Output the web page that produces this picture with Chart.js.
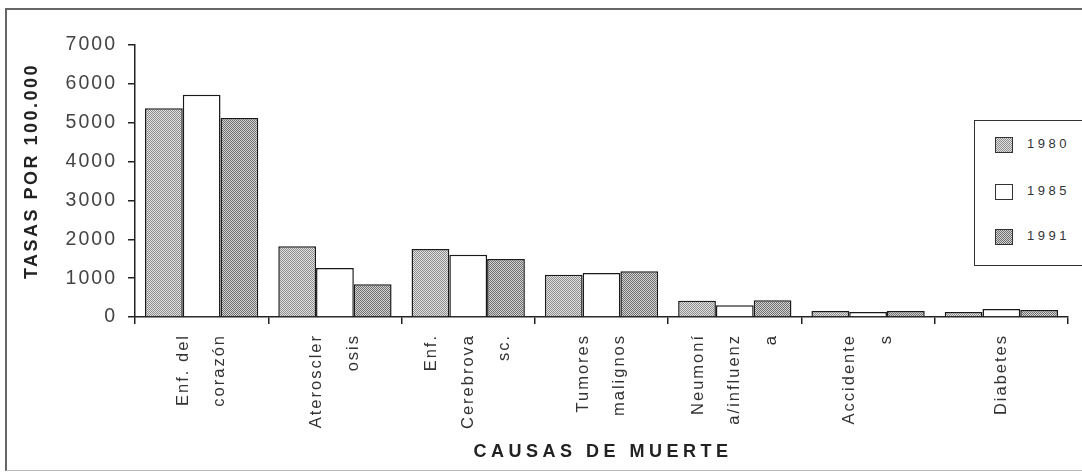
<!DOCTYPE html>
<html>
<head>
    <meta charset="utf-8">
    <title>Causas de muerte</title>
    <script src="https://cdn.jsdelivr.net/npm/chart.js"></script>
    <style>
        html, body { margin: 0; padding: 0; background: #fff; overflow: hidden; }
        .wrap { position: relative; width: 1082px; height: 475px; }
        .frame { position: absolute; left: 5px; top: 8px; width: 1100px; height: 460px;
                 border-left: 2px solid #666; border-top: 2px solid #666; border-bottom: 1px solid #bbb; }
        #chart { position: absolute; left: 0; top: 0; }
        .legend { position: absolute; left: 974px; top: 120px; width: 130px; height: 144px;
                  border: 1.5px solid #333; background: #fff;
                  font-family: "Liberation Sans", Arial, sans-serif; font-size: 13px;
                  letter-spacing: 3.5px; color: #333; }
        .legend .item { position: absolute; left: 20px; height: 14px; line-height: 14px; }
        .legend canvas { position: absolute; left: 0; top: 0; border: 1px solid #333; box-sizing: border-box; }
        .legend span { position: absolute; left: 32px; top: 0; white-space: nowrap; }
    </style>
</head>
<body>
<div class="wrap">
    <div class="frame"></div>
    <canvas id="chart" width="1082" height="475"></canvas>
    <div class="legend" id="legend"></div>
</div>
<script>
    const categories = [
        ['Enf. del', 'corazón'],
        ['Ateroscler', 'osis'],
        ['Enf.', 'Cerebrova', 'sc.'],
        ['Tumores', 'malignos'],
        ['Neumoní', 'a/influenz', 'a'],
        ['Accidente', 's'],
        ['Diabetes']
    ];
    const years = ['1980', '1985', '1991'];
    const v1980 = [5370, 1820, 1750, 1085, 415, 155, 130];
    const v1985 = [5720, 1260, 1600, 1130, 300, 130, 205];
    const v1991 = [5120, 845, 1490, 1180, 430, 155, 180];
    const yMax = 7000;
    const yStep = 1000;
    const yTitle = 'TASAS POR 100.000';
    const xTitle = 'CAUSAS DE MUERTE';

    // stipple fills like the old printout
    function stipple(light, dark) {
        const c = document.createElement('canvas');
        c.width = 4; c.height = 4;
        const g = c.getContext('2d');
        g.fillStyle = light; g.fillRect(0, 0, 4, 4);
        g.fillStyle = dark;
        g.fillRect(0, 0, 1, 1); g.fillRect(2, 0, 1, 1);
        g.fillRect(1, 1, 1, 1); g.fillRect(3, 1, 1, 1);
        g.fillRect(0, 2, 1, 1); g.fillRect(2, 2, 1, 1);
        g.fillRect(1, 3, 1, 1); g.fillRect(3, 3, 1, 1);
        return c;
    }
    const ctx = document.getElementById('chart').getContext('2d');
    const tiles = [stipple('#e2e2e2', '#8c8c8c'), null, stipple('#d2d2d2', '#707070')];
    const fills = tiles.map(t => t ? ctx.createPattern(t, 'repeat') : '#ffffff');

    // legend
    const legend = document.getElementById('legend');
    const rowTops = [16, 63, 108];
    years.forEach((y, i) => {
        const item = document.createElement('div');
        item.className = 'item';
        item.style.top = rowTops[i] + 'px';
        const sw = document.createElement('canvas');
        sw.width = 16; sw.height = 14;
        const sg = sw.getContext('2d');
        sg.fillStyle = tiles[i] ? sg.createPattern(tiles[i], 'repeat') : '#fff';
        sg.fillRect(0, 0, 16, 14);
        const label = document.createElement('span');
        label.textContent = y;
        item.appendChild(sw);
        item.appendChild(label);
        legend.appendChild(item);
    });

    const spacing = {
        id: 'spacing',
        beforeLayout(chart) { chart.ctx.letterSpacing = '2px'; },
        beforeDraw(chart) {
            chart.ctx.letterSpacing = '2px';
            // center the rotated multi-line category labels on their group
            chart.scales.x.getLabelItems().forEach(item => {
                if (item._centered) return;
                const n = Array.isArray(item.label) ? item.label.length : 1;
                item.textOffset -= (n - 1) / 2 * item.font.lineHeight;
                item._centered = true;
            });
        }
    };

    const titles = {
        id: 'titles',
        afterDraw(chart) {
            const c = chart.ctx;
            c.save();
            c.fillStyle = '#222';
            c.font = 'bold 18px "Liberation Sans", Arial, sans-serif';
            c.textAlign = 'center';
            c.textBaseline = 'middle';
            c.letterSpacing = '2.5px';
            c.translate(32, 171);
            c.rotate(-Math.PI / 2);
            c.fillText(yTitle, 0, 0);
            c.restore();
            c.save();
            c.fillStyle = '#222';
            c.font = 'bold 18px "Liberation Sans", Arial, sans-serif';
            c.textAlign = 'center';
            c.textBaseline = 'middle';
            c.letterSpacing = '4.5px';
            c.fillText(xTitle, 603, 452);
            c.restore();
        }
    };

    new Chart(ctx, {
        type: 'bar',
        data: {
            labels: categories,
            datasets: [
                { label: years[0], data: v1980, backgroundColor: fills[0] },
                { label: years[1], data: v1985, backgroundColor: fills[1] },
                { label: years[2], data: v1991, backgroundColor: fills[2] }
            ].map(d => Object.assign(d, {
                borderColor: '#1a1a1a',
                borderWidth: 1.5,
                categoryPercentage: 0.85,
                barPercentage: 1.0
            }))
        },
        options: {
            responsive: false,
            animation: false,
            layout: { padding: { left: 0, top: 45, right: 14, bottom: 0 } },
            plugins: {
                legend: { display: false },
                tooltip: { enabled: false }
            },
            scales: {
                x: {
                    afterFit(scale) { scale.height = 158; },
                    grid: {
                        offset: true,
                        drawOnChartArea: false,
                        drawTicks: true,
                        tickLength: 7,
                        color: '#222',
                        lineWidth: 1.5
                    },
                    border: { color: '#222', width: 1.5 },
                    ticks: {
                        minRotation: 90,
                        maxRotation: 90,
                        autoSkip: false,
                        padding: 10,
                        color: '#333',
                        font: { family: '"Liberation Sans", Arial, sans-serif', size: 16.5, lineHeight: 2.2 }
                    }
                },
                y: {
                    min: 0,
                    max: yMax,
                    afterFit(scale) { scale.width = 135; },
                    grid: {
                        drawOnChartArea: false,
                        drawTicks: true,
                        tickLength: 7,
                        color: '#222',
                        lineWidth: 1.5
                    },
                    border: { color: '#222', width: 1.5 },
                    ticks: {
                        stepSize: yStep,
                        padding: 11,
                        color: '#444',
                        callback: v => String(v),
                        font: { family: '"Liberation Sans", Arial, sans-serif', size: 19.5 }
                    }
                }
            }
        },
        plugins: [spacing, titles]
    });
</script>
</body>
</html>
